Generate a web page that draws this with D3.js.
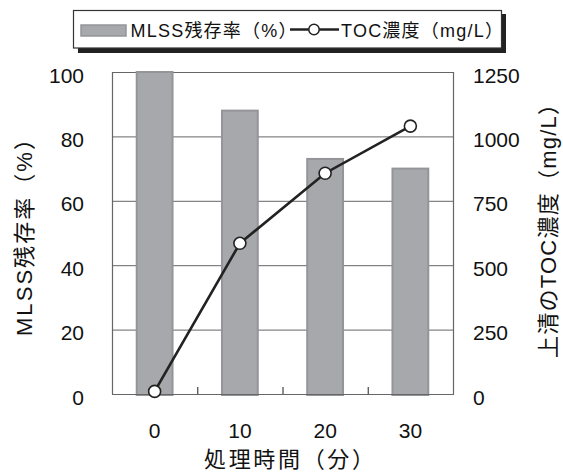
<!DOCTYPE html>
<html>
<head>
<meta charset="utf-8">
<script src="https://cdn.jsdelivr.net/npm/d3@7"></script>
<style>
  html, body { margin: 0; padding: 0; background: #fff; }
  svg { display: block; font-family: "Liberation Sans", "Noto Sans CJK JP", sans-serif; }
</style>
</head>
<body>
<svg id="chart" width="563" height="472"></svg>
<script>
// ---- data ----
const categories = ["0", "10", "20", "30"];
const mlssValues = [100, 88, 73, 70];          // MLSS残存率(%)
const tocValues = [10, 585, 857, 1040];         // TOC濃度(mg/L)
const leftTicks = [0, 20, 40, 60, 80, 100];
const rightTicks = [0, 250, 500, 750, 1000, 1250];
const seriesNames = ["MLSS残存率（%）", "TOC濃度（mg/L）"];
const xTitle = "処理時間（分）";
const leftTitle = "MLSS残存率（%）";
const rightTitle = "上清のTOC濃度（mg/L）";

// ---- layout ----
const svg = d3.select("#chart");
const plot = { left: 112, right: 453, top: 72, bottom: 394 };

const xCat = d3.scaleBand().domain(categories).range([plot.left, plot.right]).padding(0);
const xBar = d3.scaleBand().domain(categories).range([plot.left, plot.right])
  .paddingInner(0.58).paddingOuter(0.29);
const yL = d3.scaleLinear().domain([0, 100]).range([plot.bottom, plot.top]);
const yR = d3.scaleLinear().domain([0, 1250]).range([plot.bottom, plot.top]);

// gridlines
svg.append("g").selectAll("line").data(leftTicks.filter(d => d > 0)).join("line")
  .attr("x1", plot.left).attr("x2", plot.right)
  .attr("y1", d => yL(d) + 0.5).attr("y2", d => yL(d) + 0.5)
  .attr("stroke", "#666").attr("stroke-width", 1);

// frame: left, right
const frame = svg.append("g").attr("stroke", "#666").attr("stroke-width", 1.2);
frame.append("line").attr("x1", plot.left + 0.5).attr("x2", plot.left + 0.5)
  .attr("y1", plot.top).attr("y2", plot.bottom);
frame.append("line").attr("x1", plot.right + 0.5).attr("x2", plot.right + 0.5)
  .attr("y1", plot.top).attr("y2", plot.bottom);

// bars
svg.append("g").selectAll("rect").data(mlssValues).join("rect")
  .attr("x", (d, i) => xBar(categories[i]))
  .attr("width", xBar.bandwidth())
  .attr("y", d => yL(d))
  .attr("height", d => yL(0) - yL(d) + 1)
  .attr("fill", "#a7a8ab")
  .attr("stroke", "#949599")
  .attr("stroke-width", 2);

// bottom axis line
svg.append("line").attr("x1", plot.left).attr("x2", plot.right + 1)
  .attr("y1", plot.bottom + 0.5).attr("y2", plot.bottom + 0.5)
  .attr("stroke", "#666").attr("stroke-width", 1.2);

// inner ticks at category boundaries
svg.append("g").selectAll("line").data(categories.slice(1)).join("line")
  .attr("x1", d => xCat(d) + 0.5).attr("x2", d => xCat(d) + 0.5)
  .attr("y1", plot.bottom).attr("y2", plot.bottom - 7)
  .attr("stroke", "#444").attr("stroke-width", 1.2);

// line series
const pts = tocValues.map((v, i) => [xCat(categories[i]) + xCat.bandwidth() / 2, yR(v)]);
svg.append("path").datum(pts)
  .attr("d", d3.line())
  .attr("fill", "none").attr("stroke", "#222").attr("stroke-width", 2.6);
svg.append("g").selectAll("circle").data(pts).join("circle")
  .attr("cx", d => d[0]).attr("cy", d => d[1]).attr("r", 6)
  .attr("fill", "#fff").attr("stroke", "#222").attr("stroke-width", 1.6);

// axes
const axL = svg.append("g").attr("transform", `translate(${plot.left},0)`)
  .call(d3.axisLeft(yL).tickValues(leftTicks).tickFormat(d3.format("d")).tickSize(0).tickPadding(28));
const axR = svg.append("g").attr("transform", `translate(${plot.right},0)`)
  .call(d3.axisRight(yR).tickValues(rightTicks).tickFormat(d3.format("d")).tickSize(0).tickPadding(20));
const axB = svg.append("g").attr("transform", `translate(0,${plot.bottom})`)
  .call(d3.axisBottom(xCat).tickSize(0).tickPadding(29));
[axL, axR, axB].forEach(a => {
  a.select(".domain").remove();
  a.selectAll("text").attr("font-size", 21).attr("fill", "#111")
    .attr("font-family", "'Liberation Sans', sans-serif");
});
axL.selectAll("text").attr("dy", "0.48em");
axR.selectAll("text").attr("dy", "0.48em");

// axis titles
svg.append("text").attr("transform", `translate(32,336) rotate(-90)`)
  .attr("text-anchor", "start").attr("font-size", 22).attr("fill", "#111")
  .attr("textLength", 208).attr("lengthAdjust", "spacing").text(leftTitle);
svg.append("text").attr("transform", `translate(556,358) rotate(-90)`)
  .attr("text-anchor", "start").attr("font-size", 22).attr("fill", "#111")
  .attr("textLength", 265).attr("lengthAdjust", "spacing").text(rightTitle);
svg.append("text").attr("x", 204).attr("y", 467)
  .attr("text-anchor", "start").attr("font-size", 22).attr("fill", "#111")
  .attr("textLength", 170).attr("lengthAdjust", "spacing").text(xTitle);

// legend
const lg = svg.append("g");
lg.append("rect").attr("x", 78).attr("y", 14).attr("width", 428).attr("height", 39).attr("fill", "#222");
lg.append("rect").attr("x", 73.5).attr("y", 10.5).attr("width", 428).attr("height", 37.5)
  .attr("fill", "#fff").attr("stroke", "#333").attr("stroke-width", 1.2);
lg.append("rect").attr("x", 81).attr("y", 25).attr("width", 45).attr("height", 11)
  .attr("fill", "#a7a8ab").attr("stroke", "#949599").attr("stroke-width", 1.5);
lg.append("text").attr("x", 130.5).attr("y", 37).attr("font-size", 18).attr("fill", "#111")
  .attr("textLength", 166).attr("lengthAdjust", "spacing").text(seriesNames[0]);
lg.append("line").attr("x1", 290).attr("x2", 339).attr("y1", 29.5).attr("y2", 29.5)
  .attr("stroke", "#222").attr("stroke-width", 2.4);
lg.append("circle").attr("cx", 314).attr("cy", 29.5).attr("r", 5.2)
  .attr("fill", "#fff").attr("stroke", "#222").attr("stroke-width", 1.5);
lg.append("text").attr("x", 341).attr("y", 37).attr("font-size", 18).attr("fill", "#111")
  .attr("textLength", 162).attr("lengthAdjust", "spacing").text(seriesNames[1]);
</script>
</body>
</html>
